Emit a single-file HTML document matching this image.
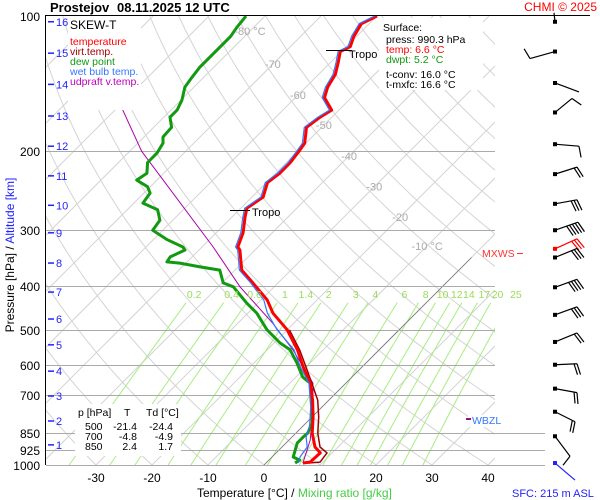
<!DOCTYPE html>
<html><head><meta charset="utf-8"><style>
html,body{margin:0;padding:0;background:#fff;}
svg{display:block;font-family:"Liberation Sans",sans-serif;}
</style></head><body>
<svg id="chart" width="600" height="500" viewBox="0 0 600 500" xmlns="http://www.w3.org/2000/svg">
<rect x="0" y="0" width="600" height="500" fill="#fff"/>
<defs><clipPath id="plotclip"><rect x="45" y="16" width="450" height="449"/></clipPath>
<clipPath id="plotclip2"><rect x="45" y="16" width="500" height="449"/></clipPath></defs>
<g id="grid" clip-path="url(#plotclip)"></g>
<g id="plines"></g>
<g id="series" clip-path="url(#plotclip2)"></g>
<g id="labels"></g>
<g id="barbs"></g>
<text x="50" y="12" font-size="13" font-weight="bold">Prostejov</text>
<text x="117" y="12" font-size="13" font-weight="bold">08.11.2025 12 UTC</text>
<text x="597" y="11" font-size="12" fill="#f00" text-anchor="end">CHMI © 2025</text>
<line x1="45" y1="15.5" x2="590" y2="15.5" stroke="#000" stroke-width="1"/>
<line x1="45.5" y1="16" x2="45.5" y2="465" stroke="#000" stroke-width="1"/>
<text transform="translate(14,255) rotate(-90)" text-anchor="middle" font-size="12"><tspan fill="#000">Pressure [hPa] / </tspan><tspan fill="#22f">Altitude [km]</tspan></text>
<text x="197" y="497" font-size="12"><tspan fill="#000">Temperature [°C] / </tspan><tspan fill="#44cc44">Mixing ratio [g/kg]</tspan></text>
<text x="512" y="497" font-size="11" fill="#22f">SFC: 215 m ASL</text>
<g id="overlays">
<g>
<rect x="68" y="16" width="73" height="94" fill="#fff"/>
<text x="70" y="29" font-size="12">SKEW-T</text>
<text x="70" y="45" font-size="10.5" fill="#f00">temperature</text>
<text x="70" y="55" font-size="10.5" fill="#a00000">virt.temp.</text>
<text x="70" y="65" font-size="10.5" fill="#119911">dew point</text>
<text x="70" y="75" font-size="10.5" fill="#3377ff">wet bulb temp.</text>
<text x="70" y="85" font-size="10.5" fill="#bb00bb">udpraft v.temp.</text>
</g>
<g>
<rect x="379" y="18" width="104" height="72" fill="#fff"/>
<text x="383" y="31" font-size="10.5">Surface:</text>
<text x="386" y="43" font-size="10.5">press: 990.3 hPa</text>
<text x="386" y="53" font-size="10.5" fill="#f00">temp: 6.6 °C</text>
<text x="386" y="63" font-size="10.5" fill="#119911">dwpt: 5.2 °C</text>
<text x="386" y="78" font-size="10.5">t-conv: 16.0 °C</text>
<text x="386" y="88" font-size="10.5">t-mxfc: 16.6 °C</text>
</g>
<g font-size="10.5">
<rect x="75" y="404" width="106" height="52" fill="#fff"/>
<text x="78" y="416">p [hPa]</text><text x="124" y="416">T</text><text x="146" y="416">Td [°C]</text>
<text x="85" y="430">500</text><text x="137" y="430" text-anchor="end">-21.4</text><text x="173" y="430" text-anchor="end">-24.4</text>
<text x="85" y="440">700</text><text x="137" y="440" text-anchor="end">-4.8</text><text x="173" y="440" text-anchor="end">-4.9</text>
<text x="85" y="450">850</text><text x="137" y="450" text-anchor="end">2.4</text><text x="173" y="450" text-anchor="end">1.7</text>
</g>
<g><line x1="326" y1="50.5" x2="352" y2="50.5" stroke="#000"/><text x="349" y="58" font-size="11">Tropo</text></g>
<g><line x1="230" y1="210.5" x2="250" y2="210.5" stroke="#000"/><text x="252" y="216" font-size="11">Tropo</text></g>
<g><text x="482" y="257" font-size="10.5" fill="#f33">MXWS</text><line x1="517" y1="253.5" x2="523" y2="253.5" stroke="#f33"/></g>
<g><rect x="468" y="415" width="40" height="12" fill="#fff"/><line x1="466" y1="418.5" x2="471" y2="418.5" stroke="#f00"/><line x1="466" y1="419.5" x2="471" y2="419.5" stroke="#22f"/><text x="472" y="424" font-size="10.5" fill="#3377ff">WBZL</text></g>
</g>
</svg>
<script>
const pLevels=[100,200,300,400,500,600,700,850,925,1000];
const kmVals=[16,15,14,13,12,11,10,9,8,7,6,5,4,3,2,1];
const kmPress=[103,121,142,167,195,227,264,304,355,412,473,540,618,702,798,902];
const tempTicks=[-30,-20,-10,0,10,20,30,40];
const isoLabels=[-80,-70,-60,-50,-40,-30,-20,-10];
const mixRatios=[0.2,0.4,0.6,1,1.4,2,3,4,6,8,10,12,14,17,20,25];
// temperature profile
const tP=[100,104,111,117,120,127,135,144,152,162,168,177,192,200,212,224,235,253,268,280,304,327,332,368,393,429,459,500,554,605,657,717,782,849,912,940,985,990];
const tT=[-60.0,-61.4,-60.5,-59.3,-60.2,-58.6,-57.0,-56.1,-54.8,-51.3,-52.1,-52.7,-50.2,-49.8,-49.3,-49.3,-49.8,-48.0,-48.9,-47.7,-45.2,-43.6,-42.7,-38.8,-34.5,-28.9,-25.5,-20.0,-14.6,-10.5,-6.4,-2.9,0.2,2.9,5.9,7.9,7.7,6.6];
// dew point profile
const dP=[100,106,111,119,130,137,144,154,162,168,177,186,192,202,212,224,232,240,248,261,270,285,300,315,327,332,344,353,355,362,368,393,401,436,459,500,535,554,593,637,657,743,806,849,866,893,960,975,990];
const dT=[-83.4,-83.0,-82.5,-82.5,-82.5,-82.1,-81.6,-79.8,-78.9,-78.9,-76.8,-76.6,-75.5,-74.8,-74.8,-73.0,-73.6,-70.5,-68.9,-68.4,-64.6,-62.3,-61.8,-57.5,-53.4,-52.5,-53.9,-53.6,-51.1,-46.8,-42.7,-39.8,-37.3,-32.0,-28.4,-23.6,-18.9,-15.9,-12.3,-8.8,-6.4,-1.8,1.1,2.1,2.0,2.0,3.8,5.5,5.2];
// wet bulb profile
const wP=[100,104,111,117,120,127,135,144,152,162,168,177,192,200,212,224,235,253,268,280,304,327,332,368,393,429,459,500,554,605,657,743,817,866,912,960,990];
const wT=[-60.4,-61.8,-60.9,-59.7,-60.6,-59.0,-57.4,-56.5,-55.2,-51.7,-52.5,-53.1,-50.6,-50.2,-49.7,-49.7,-50.2,-48.4,-49.3,-48.1,-45.6,-44.0,-43.1,-39.2,-34.9,-29.5,-26.5,-21.8,-15.2,-11.0,-6.6,-2.0,1.1,2.5,4.5,5.0,5.8];
// virtual temperature (lower levels)
const vP=[500,554,605,657,717,782,849,912,940,985,990];
const vT=[-19.6,-14.2,-10.0,-6.1,-2.0,1.2,3.9,6.8,9.1,9.5,7.6];
// parcel
const parP=[102,162,200,327,401,483,554,657,754,880,990];
const parT=[-111.4,-88.6,-77.9,-48.0,-36.1,-23.8,-15.4,-5.9,-1.1,3.8,6.6];
// wind barbs
const barbP=[103,120,141,164,193,225,262,300,330,345,402,463,532,598,676,761,863,990];
const barbDX=[-1,-25,24,17,24,22,22,23,22,22,22,22,22,22,22,20,15,20];
const barbDY=[-9,7,9,-14,2,-7,-4,-8,-10,-9,-8,-8,-9,-1,4,10,20,17];
const barbN=[0,1,0,1,1,2,3,5,3,3,4,3,2,2,2,2,1,0];
const barbC=["#000","#000","#000","#000","#000","#000","#000","#000","#f00","#000","#000","#000","#000","#000","#000","#000","#000","#22f"];

const NS='http://www.w3.org/2000/svg';
function yP(p){return 465-195*Math.log(1000/p);}
function xT(t,p){return 264+5.6*t+(465-yP(p));}
function mk(tag,attrs,parent){const e=document.createElementNS(NS,tag);for(const k in attrs)e.setAttribute(k,attrs[k]);parent.appendChild(e);return e;}
const grid=document.getElementById('grid'),plines=document.getElementById('plines'),series=document.getElementById('series'),labels=document.getElementById('labels'),barbs=document.getElementById('barbs');
for(let t=-140;t<=40;t+=10){
 const l=mk('line',{x1:xT(t,1000),y1:yP(1000),x2:xT(t,100),y2:yP(100),stroke:'#d4d4d4','stroke-width':1},grid);
 
 
}
for(let th=-40;th<=200;th+=10){
 let d='';for(let p=1000;p>=100;p-=10){const T=(th+273.15)*Math.pow(p/1000,0.2857)-273.15;d+=(d?'L':'M')+xT(T,p).toFixed(1)+','+yP(p).toFixed(1);}
 const a=mk('path',{d:d,fill:'none',stroke:'#d4d4d4','stroke-width':1},grid);
 
 
}
mixRatios.forEach(w=>{
 let d='';for(let p=1000;p>=435;p-=5){const e=w*p/(622+w);const L=Math.log(e/6.112);const Td=243.5*L/(17.67-L);d+=(d?'L':'M')+xT(Td,p).toFixed(1)+','+yP(p).toFixed(1);}
 const m=mk('path',{d:d,fill:'none',stroke:'#a6ee80','stroke-width':1},grid);
 
 
 const e=w*420/(622+w);const L=Math.log(e/6.112);const Td=243.5*L/(17.67-L);
 const tx=mk('text',{x:xT(Td,420)+3,y:298,'font-size':10.5,fill:'#99dd55','text-anchor':'middle'},labels);tx.textContent=w;
 
 
});
const z=mk('line',{x1:xT(0,1000),y1:yP(1000),x2:xT(0,345),y2:yP(345),stroke:'#777','stroke-width':0.8},grid);


const isoP=[108,128,150,175,205,240,280,325];
isoLabels.forEach((t,i)=>{const p=isoP[i];
 const tx=mk('text',{x:xT(t,p),y:yP(p)+4,'font-size':11,fill:'#aaa','text-anchor':'middle'},labels);
 tx.textContent=(t===-80||t===-10)?t+' °C':String(t);
 
 });
pLevels.forEach(p=>{const y=Math.round(yP(p))+0.5;
 if(p>100){const l=mk('line',{x1:46,y1:y,x2:p>=850?545:495,y2:y,stroke:'#aaa','stroke-width':1},plines);
 
 }
 const tx=mk('text',{x:40,y:y+4.5,'font-size':12,'text-anchor':'end'},labels);tx.textContent=p;
 
 });
kmVals.forEach((k,i)=>{const y=yP(kmPress[i]);
 mk('line',{x1:48,y1:y,x2:54,y2:y,stroke:'#22f','stroke-width':1.5},labels);
 const tx=mk('text',{x:56,y:y+4,'font-size':11,fill:'#22f'},labels);tx.textContent=k;
 
 });
tempTicks.forEach(t=>{const tx=mk('text',{x:xT(t,1000),y:482,'font-size':12,'text-anchor':'middle'},labels);tx.textContent=t;
 
 });
function line(P,T,col,w,name){let d='';P.forEach((p,i)=>{d+=(i?'L':'M')+xT(T[i],p).toFixed(1)+','+yP(p).toFixed(1);});
 const e=mk('path',{d:d,fill:'none',stroke:col,'stroke-width':w,'stroke-linejoin':'round'},series);
 
 }
line(parP,parT,'#aa00aa',1,'updraft-line');
line(dP,dT,'#119911',3,'dew-point-line');
line(vP,vT,'#a00000',1.5,'virtual-temp-line');
line(tP,tT,'#f00',3,'temperature-line');
line(wP,wT,'#3377ff',1.2,'wet-bulb-line');
barbP.forEach((p,i)=>{const x=555,y=yP(p);const dx=barbDX[i],dy=barbDY[i];const c=barbC[i];
 const g=mk('g',{},barbs);
 
 
 mk('rect',{x:x-2,y:y-2,width:4,height:4,fill:c},g);
 mk('line',{x1:x,y1:y,x2:x+dx,y2:y+dy,stroke:c,'stroke-width':1.2},g);
 const L=Math.hypot(dx,dy),ux=dx/L,uy=dy/L;
 for(let f=0;f<barbN[i];f++){const bx=x+dx-ux*3*f,by=y+dy-uy*3*f;
  mk('line',{x1:bx,y1:by,x2:bx-uy*11+ux*3,y2:by+ux*11+uy*3,stroke:c,'stroke-width':1.2},g);}
});
const ov=document.getElementById('overlays');ov.parentNode.appendChild(ov);
</script>
</body></html>
